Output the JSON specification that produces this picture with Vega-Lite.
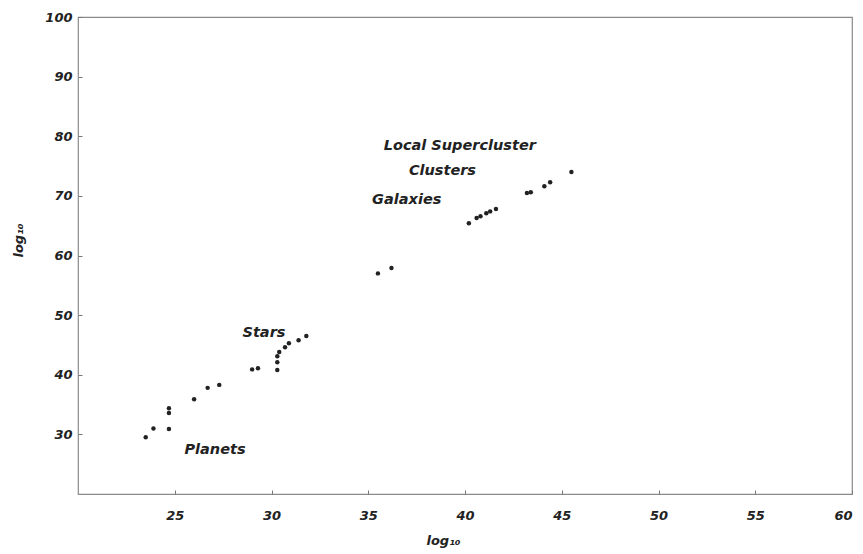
{
  "$schema": "https://vega.github.io/schema/vega-lite/v6.json",
  "width": 774,
  "height": 477,
  "autosize": {"type": "none"},
  "padding": {"left": 78, "top": 17, "right": 11, "bottom": 60},
  "background": "white",
  "config": {
    "view": {"stroke": "#8a8a8a", "strokeWidth": 1.2},
    "font": "DejaVu Sans",
    "axis": {
      "grid": false,
      "domain": false,
      "ticks": true,
      "tickSize": -4,
      "tickColor": "#777",
      "labelFont": "DejaVu Sans",
      "labelFontStyle": "italic",
      "labelFontWeight": "bold",
      "labelFontSize": 13,
      "labelColor": "#222",
      "titleFont": "DejaVu Sans",
      "titleFontStyle": "italic",
      "titleFontWeight": "bold",
      "titleFontSize": 13,
      "titleColor": "#222"
    }
  },
  "datasets": {
    "objects": [
      {"x": 23.5, "y": 29.5},
      {"x": 23.9, "y": 31.0},
      {"x": 24.7, "y": 30.9},
      {"x": 24.7, "y": 33.6},
      {"x": 24.7, "y": 34.4},
      {"x": 26.0, "y": 35.9},
      {"x": 26.7, "y": 37.8},
      {"x": 27.3, "y": 38.3},
      {"x": 29.0, "y": 40.9},
      {"x": 29.3, "y": 41.1},
      {"x": 30.3, "y": 40.8},
      {"x": 30.3, "y": 42.1},
      {"x": 30.3, "y": 43.1},
      {"x": 30.4, "y": 43.8},
      {"x": 30.7, "y": 44.6},
      {"x": 30.9, "y": 45.3},
      {"x": 31.4, "y": 45.8},
      {"x": 31.8, "y": 46.5},
      {"x": 35.5, "y": 57.0},
      {"x": 36.2, "y": 57.9},
      {"x": 40.2, "y": 65.4},
      {"x": 40.6, "y": 66.3},
      {"x": 40.8, "y": 66.6},
      {"x": 41.1, "y": 67.1},
      {"x": 41.3, "y": 67.4},
      {"x": 41.6, "y": 67.8},
      {"x": 43.2, "y": 70.5},
      {"x": 43.4, "y": 70.6},
      {"x": 44.1, "y": 71.6},
      {"x": 44.4, "y": 72.3},
      {"x": 45.5, "y": 74.0}
    ],
    "labels": [
      {"x": 25.5, "y": 27.3, "text": "Planets"},
      {"x": 28.5, "y": 47.0, "text": "Stars"},
      {"x": 35.2, "y": 69.3, "text": "Galaxies"},
      {"x": 37.1, "y": 74.2, "text": "Clusters"},
      {"x": 35.8, "y": 78.4, "text": "Local Supercluster"}
    ]
  },
  "layer": [
    {
      "data": {"name": "objects"},
      "mark": {"type": "circle", "size": 20, "color": "#222", "opacity": 1},
      "encoding": {
        "x": {
          "field": "x",
          "type": "quantitative",
          "scale": {"domain": [20, 60], "nice": false, "zero": false},
          "axis": {
            "title": "log₁₀",
            "values": [25, 30, 35, 40, 45, 50, 55, 60],
            "labelPadding": 19,
            "titlePadding": 12,
            "titleX": 365
          }
        },
        "y": {
          "field": "y",
          "type": "quantitative",
          "scale": {"domain": [20, 100], "nice": false, "zero": false},
          "axis": {
            "title": "log₁₀",
            "values": [30, 40, 50, 60, 70, 80, 90, 100],
            "labelPadding": 10,
            "titlePadding": 19,
            "titleY": 223
          }
        }
      }
    },
    {
      "data": {"name": "labels"},
      "mark": {
        "type": "text",
        "align": "left",
        "baseline": "middle",
        "font": "DejaVu Sans",
        "fontStyle": "italic",
        "fontWeight": "bold",
        "fontSize": 14.5,
        "color": "#222"
      },
      "encoding": {
        "x": {"field": "x", "type": "quantitative"},
        "y": {"field": "y", "type": "quantitative"},
        "text": {"field": "text"}
      }
    }
  ]
}
